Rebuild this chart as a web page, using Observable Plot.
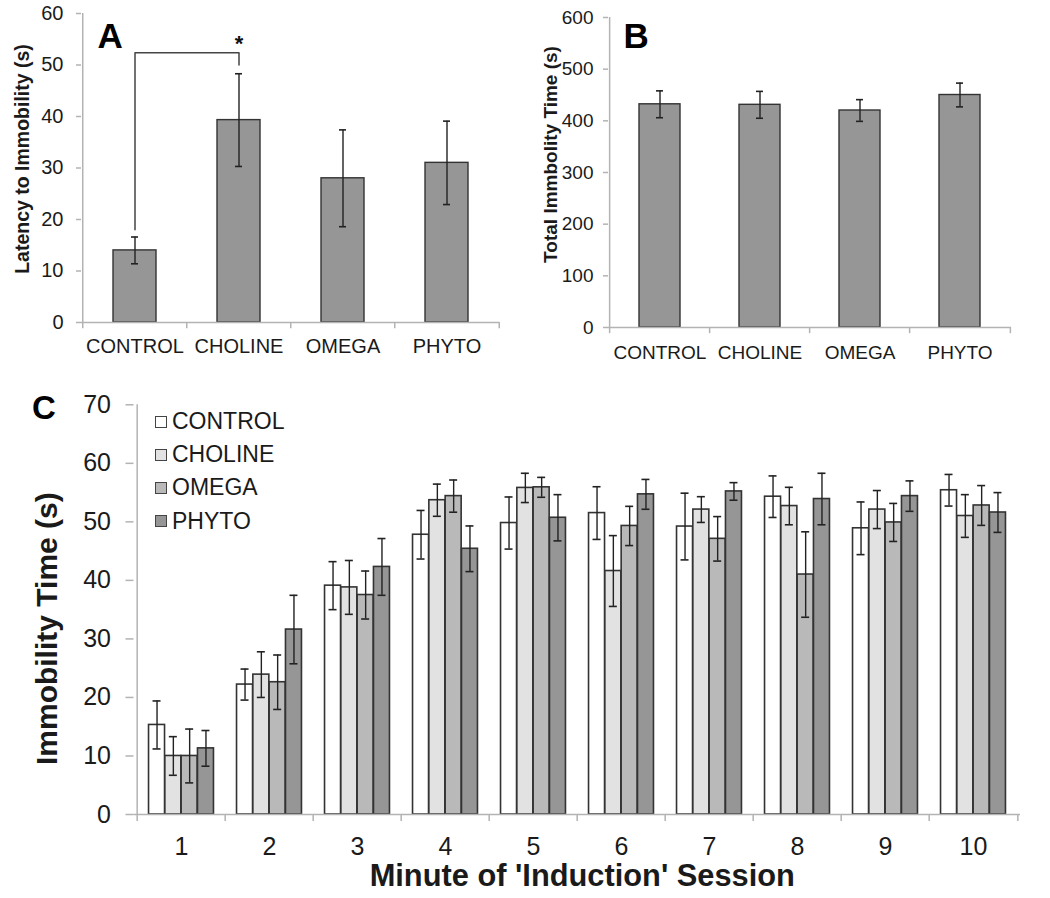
<!DOCTYPE html>
<html>
<head>
<meta charset="utf-8">
<script src="https://cdn.jsdelivr.net/npm/d3@7"></script>
<script src="https://cdn.jsdelivr.net/npm/@observablehq/plot@0.6"></script>
<style>
  body { margin: 0; background: #fff; }
  #root { position: relative; width: 1050px; height: 898px; background: #fff; overflow: hidden;
          font-family: "Liberation Sans", Arial, sans-serif; }
  .panel { position: absolute; }
  #legend { position: absolute; left: 155px; top: 405px; font-size: 23px; color: #1a1a1a; }
  #legend .row { display: flex; align-items: center; height: 33.2px; line-height: 33.2px; }
  #legend .sw { width: 10px; height: 10px; border: 1.5px solid #444; margin-right: 5px; box-sizing: content-box; }
</style>
</head>
<body>
<div id="root">
  <div class="panel" id="pa" style="left:0;top:0"></div>
  <div class="panel" id="pb" style="left:500px;top:0"></div>
  <div class="panel" id="pc" style="left:0;top:370px"></div>
  <div id="legend"></div>
</div>
<script>
// ---------- data ----------
const groups = ["CONTROL", "CHOLINE", "OMEGA", "PHYTO"];

// Panel A: latency to immobility (s)
const latencyMean = [14.0, 39.3, 28.0, 31.0];
const latencySem  = [2.6, 9.0, 9.4, 8.1];
const latencyTicks = [0, 10, 20, 30, 40, 50, 60];

// Panel B: total immobility time (s)
const totalMean = [432, 431, 420, 450];
const totalSem  = [26, 26, 21, 23];
const totalTicks = [0, 100, 200, 300, 400, 500, 600];

// Panel C: immobility time per minute (s)
const minutes = ["1", "2", "3", "4", "5", "6", "7", "8", "9", "10"];
const controlMean = [15.3, 22.2, 39.1, 47.8, 49.8, 51.5, 49.2, 54.3, 48.9, 55.4];
const controlSem  = [4.1, 2.65, 4.1, 4.15, 4.45, 4.5, 5.7, 3.55, 4.5, 2.7];
const cholineMean = [10.0, 23.9, 38.8, 53.7, 55.8, 41.6, 52.1, 52.7, 52.1, 51.0];
const cholineSem  = [3.3, 3.9, 4.6, 2.75, 2.5, 6.05, 2.2, 3.2, 3.25, 3.65];
const omegaMean   = [10.0, 22.6, 37.5, 54.4, 55.9, 49.3, 47.1, 41.0, 49.9, 52.8];
const omegaSem    = [4.6, 4.65, 4.1, 2.75, 1.7, 3.35, 3.8, 7.3, 3.25, 3.4];
const phytoMean   = [11.3, 31.6, 42.3, 45.4, 50.7, 54.7, 55.2, 53.9, 54.4, 51.6];
const phytoSem    = [3.05, 5.85, 4.85, 3.9, 3.95, 2.55, 1.5, 4.4, 2.6, 3.4];
const immobilityTicks = [0, 10, 20, 30, 40, 50, 60, 70];

// significance bracket (panel A)
const bracketPath = [
  {g: "CONTROL", v: 18.0},
  {g: "CONTROL", v: 52.4},
  {g: "CHOLINE", v: 52.4},
  {g: "CHOLINE", v: 50.0}
];
const starMark = [{g: "CHOLINE", v: 54.0, label: "*"}];

// ---------- styles ----------
const FONT = "'Liberation Sans', Arial, Helvetica, sans-serif";
const AXIS_GRAY = "#b3b3b3";
const TEXT = "#1a1a1a";
const BAR_GRAY = "#969696";
const seriesColors = ["#ffffff", "#e2e2e2", "#b9b9b9", "#969696"];

function style(fontSize) {
  return {fontFamily: FONT, fontSize: fontSize + "px", background: "transparent", overflow: "visible", color: TEXT};
}

// ---------- simple 4-bar panel ----------
function barPanel(cfg) {
  const {width, height, ml, mr, mt, mb, means, sems, ticks, ymax, tickFont, labelPad,
         title, titleFont, titleDx, titleDy, letter, letterDx, letterDy, extra, capInset, tickLen} = cfg;
  const step = (width - ml - mr) / groups.length;
  const rows = groups.map((g, i) => ({g, mean: means[i], sem: sems[i]}));
  const marks = [
    Plot.barY(rows, {x: "g", y: "mean", fill: BAR_GRAY, stroke: "#333", strokeWidth: 1.4}),
    Plot.ruleX(rows, {x: "g", y1: d => d.mean - d.sem, y2: d => d.mean + d.sem, stroke: "#222", strokeWidth: 1.4}),
    Plot.tickY(rows, {x: "g", y: d => d.mean + d.sem, insetLeft: capInset, insetRight: capInset, stroke: "#222", strokeWidth: 1.6}),
    Plot.tickY(rows, {x: "g", y: d => d.mean - d.sem, insetLeft: capInset, insetRight: capInset, stroke: "#222", strokeWidth: 1.6}),
    // axis lines
    Plot.ruleY([0], {stroke: AXIS_GRAY, strokeWidth: 1.5}),
    Plot.ruleX([groups[0]], {x: d => d, dx: -step / 2, y1: 0, y2: ymax, stroke: AXIS_GRAY, strokeWidth: 1.5}),
    // category boundary ticks
    Plot.ruleX(groups, {x: d => d, dx: -step / 2, y1: 0, y2: -tickLen, stroke: AXIS_GRAY, strokeWidth: 1.5}),
    Plot.ruleX([groups[groups.length - 1]], {x: d => d, dx: step / 2, y1: 0, y2: -tickLen, stroke: AXIS_GRAY, strokeWidth: 1.5}),
    Plot.axisY({ticks, tickSize: 5, tickPadding: labelPad, fontSize: tickFont, stroke: AXIS_GRAY, strokeWidth: 1.5, fill: TEXT, label: null}),
    Plot.axisX({tickSize: 0, tickPadding: cfg.xPad, fontSize: tickFont, fill: TEXT, label: null}),
    Plot.text([title], {text: d => d, frameAnchor: "left", textAnchor: "middle", lineAnchor: "middle", rotate: -90,
      dx: titleDx, dy: titleDy, fontSize: titleFont, fontWeight: "bold", fill: TEXT}),
    Plot.text([letter], {text: d => d, frameAnchor: "top-left", textAnchor: "start", lineAnchor: "top",
      dx: letterDx, dy: letterDy, fontSize: 35, fontWeight: "bold", fill: "#000"}),
    ...(extra || [])
  ];
  return Plot.plot({
    width, height, marginLeft: ml, marginRight: mr, marginTop: mt, marginBottom: mb,
    x: {type: "band", domain: groups, paddingInner: 0.59, paddingOuter: 0.295},
    y: {domain: [0, ymax]},
    style: style(tickFont),
    marks
  });
}

const plotA = barPanel({
  width: 500, height: 370, ml: 81, mr: 1, mt: 13, mb: 48,
  means: latencyMean, sems: latencySem, ticks: latencyTicks, ymax: 60,
  tickFont: 20, labelPad: 13, xPad: 16, capInset: 18, tickLen: 1.2,
  title: "Latency to Immobility (s)", titleFont: 19.5, titleDx: -59, titleDy: -9,
  letter: "A", letterDx: 16, letterDy: 10,
  extra: [
    Plot.line(bracketPath, {x: "g", y: "v", stroke: "#444", strokeWidth: 1.5}),
    Plot.text(starMark, {x: "g", y: "v", text: "label", fontSize: 22, fontWeight: "bold", fill: "#111"})
  ]
});
document.getElementById("pa").appendChild(plotA);

const plotB = barPanel({
  width: 550, height: 370, ml: 108, mr: 39, mt: 17, mb: 43,
  means: totalMean, sems: totalSem, ticks: totalTicks, ymax: 600,
  tickFont: 19, labelPad: 10, xPad: 18, capInset: 17, tickLen: 12,
  title: "Total Immbolity Time (s)", titleFont: 19, titleDx: -58, titleDy: -18,
  letter: "B", letterDx: 15, letterDy: 6
});
document.getElementById("pb").appendChild(plotB);

// ---------- panel C ----------
(function () {
  const width = 1050, height = 528, ml = 133.5, mr = 30, mt = 34.3, mb = 84;
  const pInner = 0.816;
  const step = (width - ml - mr) / minutes.length;
  const bw = step * (1 - pInner);
  const series = [
    {name: "CONTROL", mean: controlMean, sem: controlSem},
    {name: "CHOLINE", mean: cholineMean, sem: cholineSem},
    {name: "OMEGA", mean: omegaMean, sem: omegaSem},
    {name: "PHYTO", mean: phytoMean, sem: phytoSem}
  ];
  const marks = [];
  series.forEach((s, i) => {
    const rows = minutes.map((m, j) => ({minute: m, mean: s.mean[j], sem: s.sem[j]}));
    const dx = (i - 1.5) * bw;
    marks.push(Plot.barY(rows, {x: "minute", y: "mean", dx, fill: seriesColors[i], stroke: "#333", strokeWidth: 1.6}));
    marks.push(Plot.ruleX(rows, {x: "minute", y1: d => d.mean - d.sem, y2: d => d.mean + d.sem, dx, stroke: "#222", strokeWidth: 1.4}));
    marks.push(Plot.tickY(rows, {x: "minute", y: d => d.mean + d.sem, dx, insetLeft: 4, insetRight: 4, stroke: "#222", strokeWidth: 1.6}));
    marks.push(Plot.tickY(rows, {x: "minute", y: d => d.mean - d.sem, dx, insetLeft: 4, insetRight: 4, stroke: "#222", strokeWidth: 1.6}));
  });
  marks.push(
    Plot.ruleY([0], {stroke: AXIS_GRAY, strokeWidth: 1.5}),
    Plot.ruleX([minutes[0]], {x: d => d, dx: -step / 2, y1: 0, y2: 70, stroke: AXIS_GRAY, strokeWidth: 1.5}),
    Plot.ruleX(minutes, {x: d => d, dx: -step / 2, y1: 0, y2: -1.2, stroke: AXIS_GRAY, strokeWidth: 1.5}),
    Plot.ruleX([minutes[minutes.length - 1]], {x: d => d, dx: step / 2, y1: 0, y2: -1.2, stroke: AXIS_GRAY, strokeWidth: 1.5}),
    Plot.axisY({ticks: immobilityTicks, tickSize: 8, tickPadding: 15, fontSize: 25, stroke: AXIS_GRAY, strokeWidth: 1.5, fill: TEXT, label: null}),
    Plot.axisX({tickSize: 0, tickPadding: 23, fontSize: 25, fill: TEXT, label: null}),
    Plot.text(["Immobility Time (s)"], {text: d => d, frameAnchor: "left", textAnchor: "middle", lineAnchor: "middle",
      rotate: -90, dx: -87, dy: 19, fontSize: 30, fontWeight: "bold", fill: TEXT}),
    Plot.text(["Minute of 'Induction' Session"], {text: d => d, frameAnchor: "bottom", textAnchor: "middle", lineAnchor: "top",
      dx: 5, dy: 50, fontSize: 30.8, fontWeight: "bold", fill: TEXT}),
    Plot.text(["C"], {text: d => d, frameAnchor: "top-left", textAnchor: "start", lineAnchor: "top",
      dx: -102, dy: -9, fontSize: 33, fontWeight: "bold", fill: "#000"})
  );
  const plotC = Plot.plot({
    width, height, marginLeft: ml, marginRight: mr, marginTop: mt, marginBottom: mb,
    x: {type: "band", domain: minutes, paddingInner: pInner, paddingOuter: pInner / 2},
    y: {domain: [0, 70]},
    style: style(25),
    marks
  });
  document.getElementById("pc").appendChild(plotC);

  // legend
  const legend = document.getElementById("legend");
  series.forEach((s, i) => {
    const row = document.createElement("div");
    row.className = "row";
    const sw = document.createElement("span");
    sw.className = "sw";
    sw.style.background = seriesColors[i];
    const label = document.createElement("span");
    label.textContent = s.name;
    row.appendChild(sw);
    row.appendChild(label);
    legend.appendChild(row);
  });
})();
</script>
</body>
</html>
